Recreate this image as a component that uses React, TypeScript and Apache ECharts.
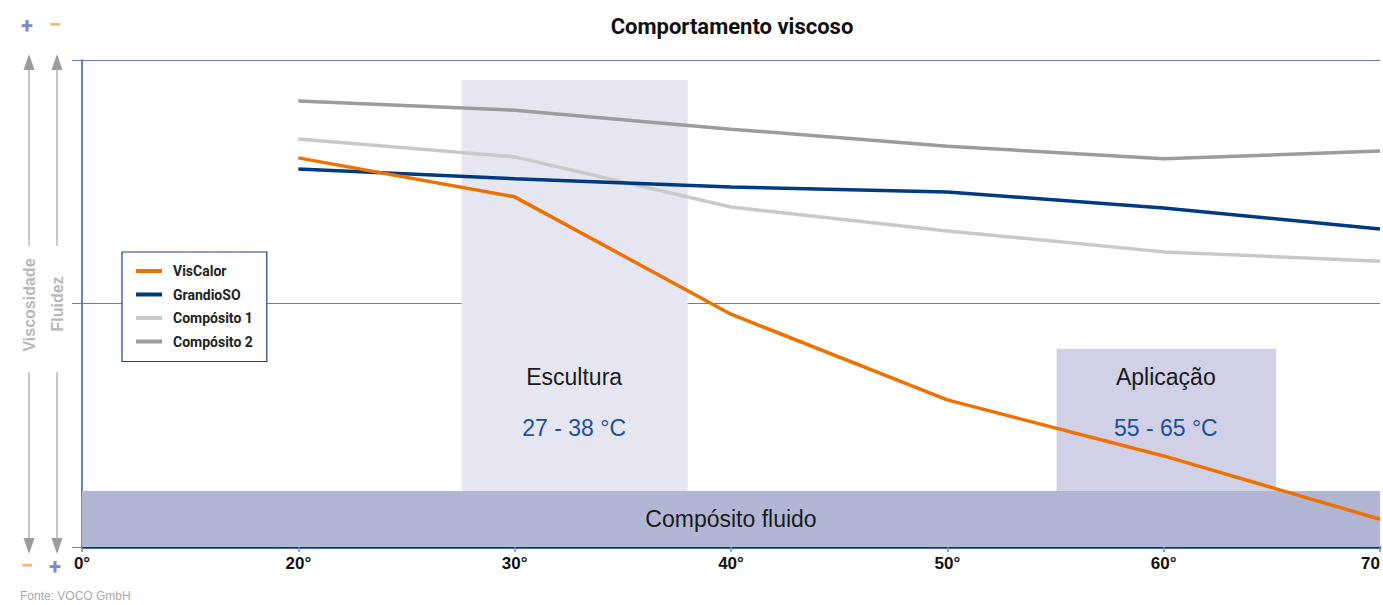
import React, { useEffect, useRef } from "react";
import * as echarts from "echarts";

const temps = [20, 30, 40, 50, 60, 70];
const visCalor = [79.9, 71.9, 47.8, 30.2, 18.7, 5.7];
const grandioSO = [77.6, 75.6, 73.9, 72.9, 69.6, 65.3];
const composito1 = [83.8, 80.1, 69.8, 64.9, 60.6, 58.7];
const composito2 = [91.6, 89.7, 85.8, 82.3, 79.7, 81.3];

const seriesNames = ["VisCalor", "GrandioSO", "Compósito 1", "Compósito 2"];
const seriesColors = ["#ee7203", "#003a80", "#c9c9c9", "#9c9c9c"];

// zones: [xFrom, xTo, yFrom, yTo]
const esculturaZone = [27.55, 38.0, 11.5, 95.9];
const aplicacaoZone = [55.05, 65.2, 11.5, 40.7];
const fluidoZone = [10, 70, 0, 11.5];

const zoneTitles: [number, number, string][] = [
  [32.75, 34.9, "Escultura"],
  [60.1, 34.9, "Aplicação"],
];
const zoneRanges: [number, number, string][] = [
  [32.75, 24.4, "27 - 38 °C"],
  [60.1, 24.4, "55 - 65 °C"],
];

const FONT = "Roboto, 'Noto Sans', sans-serif";
const ARIAL = "'Liberation Sans', Arial, sans-serif";

export default function App() {
  const ref = useRef<HTMLDivElement>(null);
  useEffect(() => {
    const chart = echarts.init(ref.current!, null, { renderer: "svg" });
    const mk = (vals: number[]) => temps.map((t, i) => [t, vals[i]]);
    const labelSeries = (name: string, items: [number, number, string][], color: string) => ({
      name,
      type: "scatter",
      silent: true,
      symbolSize: 0,
      z: 2,
      itemStyle: { opacity: 1 },
      data: items.map((d) => ({ value: [d[0], d[1]], name: d[2] })),
      label: {
        show: true,
        position: "inside",
        formatter: (p: any) => p.name,
        fontSize: 23,
        color,
        fontFamily: ARIAL,
      },
    });
    chart.setOption({
      animation: false,
      grid: { left: 82, right: 1, top: 60, bottom: 58, containLabel: false },
      legend: {
        orient: "vertical",
        left: 122,
        top: 252,
        data: seriesNames,
        icon: "rect",
        itemWidth: 26,
        itemHeight: 4,
        itemGap: 9.5,
        padding: [12, 14, 13, 14],
        borderColor: "#1f3f8a",
        borderWidth: 1.2,
        backgroundColor: "#fff",
        textStyle: { fontSize: 14, fontWeight: "bold", color: "#222", fontFamily: FONT, padding: [0, 0, 0, 6] },
        z: 10,
      },
      xAxis: {
        type: "value",
        min: 10,
        max: 70,
        interval: 10,
        axisLine: { show: true, lineStyle: { color: "#003a80", width: 2.5 } },
        axisTick: { show: true, length: 5, lineStyle: { color: "#6a8fd0", width: 1.5 } },
        splitLine: { show: false },
        axisLabel: {
          color: "#111",
          fontSize: 17,
          fontWeight: "bold",
          fontFamily: ARIAL,
          margin: 8,
          alignMaxLabel: "right",
          formatter: (v: number) => (v === 10 ? "0°" : v === 70 ? "70" : `${v}°`),
        },
      },
      yAxis: {
        type: "value",
        min: 0,
        max: 100,
        interval: 50,
        axisLine: { show: true, lineStyle: { color: "#3a5ea8", width: 1.5 } },
        axisTick: { show: true, length: 10, lineStyle: { color: "#6a78c0", width: 1 } },
        axisLabel: { show: false },
        splitLine: { show: true, lineStyle: { color: "#6a78c0", width: 1 } },
      },
      series: [
        {
          name: "zones",
          type: "line",
          data: [],
          z: 1,
          silent: true,
          markArea: {
            silent: true,
            data: [
              [
                { coord: [esculturaZone[0], esculturaZone[2]], itemStyle: { color: "#e5e6f1" } },
                { coord: [esculturaZone[1], esculturaZone[3]] },
              ],
              [
                { coord: [aplicacaoZone[0], aplicacaoZone[2]], itemStyle: { color: "#d0d1e6" } },
                { coord: [aplicacaoZone[1], aplicacaoZone[3]] },
              ],
              [
                {
                  coord: [fluidoZone[0], fluidoZone[2]],
                  itemStyle: { color: "#b2b6d5" },
                  label: {
                    show: true,
                    position: "inside",
                    formatter: "Compósito fluido",
                    fontSize: 23,
                    color: "#1a1a1a",
                    fontFamily: ARIAL,
                  },
                },
                { coord: [fluidoZone[1], fluidoZone[3]] },
              ],
            ],
          },
        },
        labelSeries("zoneTitles", zoneTitles, "#1a1a1a"),
        labelSeries("zoneRanges", zoneRanges, "#1f4f99"),
        ...[visCalor, grandioSO, composito1, composito2].map((vals, i) => ({
          name: seriesNames[i],
          type: "line",
          data: mk(vals),
          showSymbol: false,
          symbol: "none",
          z: 6 - i,
          lineStyle: { color: seriesColors[i], width: 3.5 },
          itemStyle: { color: seriesColors[i] },
        })),
      ],
      graphic: [
        {
          type: "text",
          x: 732,
          y: 26,
          style: { text: "Comportamento viscoso", fontSize: 22, fontWeight: "bold", fill: "#111", fontFamily: FONT, align: "center", verticalAlign: "middle" },
        },
        { type: "text", left: 21, top: 14, style: { text: "+", fontSize: 22, fontWeight: "bold", fill: "#7f86c2", fontFamily: FONT } },
        { type: "text", left: 49, top: 13, style: { text: "−", fontSize: 22, fontWeight: "bold", fill: "#f5b27a", fontFamily: FONT } },
        { type: "text", left: 21, top: 554, style: { text: "−", fontSize: 22, fontWeight: "bold", fill: "#f5b27a", fontFamily: FONT } },
        { type: "text", left: 49, top: 555, style: { text: "+", fontSize: 22, fontWeight: "bold", fill: "#7f86c2", fontFamily: FONT } },
        { type: "line", shape: { x1: 29, y1: 68, x2: 29, y2: 246 }, style: { stroke: "#c9c9c9", lineWidth: 2 } },
        { type: "line", shape: { x1: 57, y1: 68, x2: 57, y2: 246 }, style: { stroke: "#c9c9c9", lineWidth: 2 } },
        { type: "line", shape: { x1: 29, y1: 372, x2: 29, y2: 540 }, style: { stroke: "#c9c9c9", lineWidth: 2 } },
        { type: "line", shape: { x1: 57, y1: 372, x2: 57, y2: 540 }, style: { stroke: "#c9c9c9", lineWidth: 2 } },
        { type: "polygon", shape: { points: [[29, 54], [23.5, 70], [34.5, 70]] }, style: { fill: "#9c9c9c" } },
        { type: "polygon", shape: { points: [[57, 54], [51.5, 70], [62.5, 70]] }, style: { fill: "#9c9c9c" } },
        { type: "polygon", shape: { points: [[29, 554], [23.5, 538], [34.5, 538]] }, style: { fill: "#9c9c9c" } },
        { type: "polygon", shape: { points: [[57, 554], [51.5, 538], [62.5, 538]] }, style: { fill: "#9c9c9c" } },
        {
          type: "text",
          x: 29,
          y: 305,
          rotation: Math.PI / 2,
          style: { text: "Viscosidade", fontSize: 16, fontWeight: "bold", fill: "#b8b8b8", fontFamily: ARIAL, align: "center", verticalAlign: "middle" },
        },
        {
          type: "text",
          x: 57,
          y: 304,
          rotation: Math.PI / 2,
          style: { text: "Fluidez", fontSize: 16, fontWeight: "bold", fill: "#b8b8b8", fontFamily: ARIAL, align: "center", verticalAlign: "middle" },
        },
        { type: "text", left: 20, top: 590, style: { text: "Fonte: VOCO GmbH", fontSize: 12, fill: "#aaaaaa", fontFamily: ARIAL } },
      ],
    });
    return () => chart.dispose();
  }, []);
  return <div ref={ref} style={{ width: 1383, height: 605, position: "absolute", left: 0, top: 0 }} />;
}
